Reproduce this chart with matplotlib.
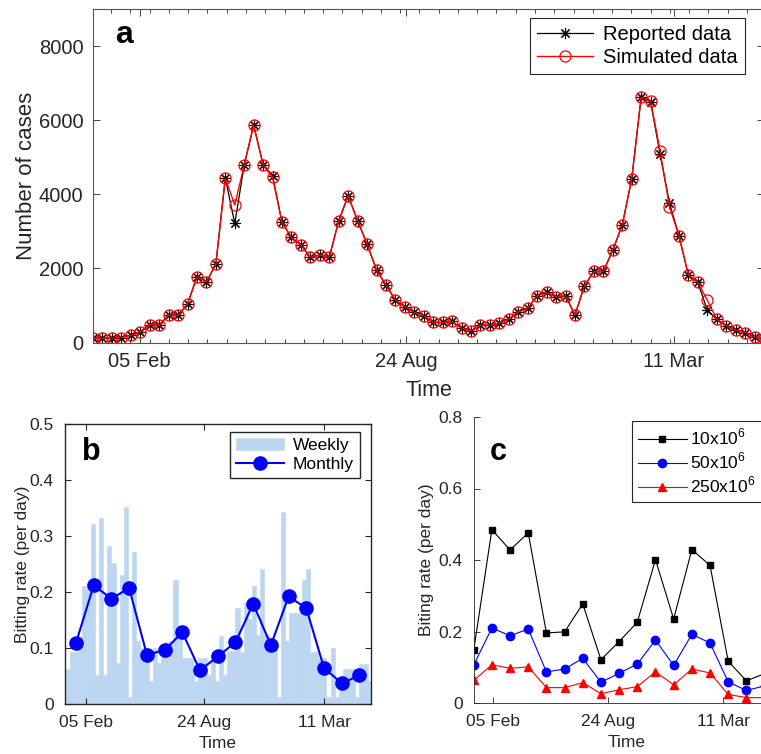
import numpy as np
import matplotlib
matplotlib.use("Agg")
import matplotlib.pyplot as plt
from matplotlib.ticker import FuncFormatter, FixedLocator

plt.rcParams['font.family'] = ['Liberation Sans', 'DejaVu Sans']
plt.rcParams['mathtext.fontset'] = 'custom'
plt.rcParams['mathtext.rm'] = 'Liberation Sans'

# ---- data ----
# panel a: weekly cases
reported = [117, 117, 117, 135, 198, 288, 486, 468, 739, 748, 1036, 1775, 1631, 2117,
            4441, 3216, 4793, 5874, 4793, 4505, 3243, 2838, 2640, 2297, 2360, 2297,
            3288, 3964, 3288, 2658, 1964, 1550, 1144, 964, 811, 721, 541, 541, 568,
            387, 315, 468, 468, 523, 631, 829, 928, 1261, 1351, 1234, 1261, 748,
            1532, 1919, 1919, 2495, 3171, 4414, 6622, 6504, 5090, 3766, 2883, 1820,
            1622, 874, 631, 450, 333, 270, 150, 120]
simulated = [117, 117, 117, 135, 198, 288, 486, 468, 739, 748, 1036, 1775, 1631, 2117,
             4441, 3712, 4793, 5874, 4793, 4460, 3243, 2838, 2631, 2297, 2360, 2297,
             3288, 3964, 3288, 2658, 1964, 1550, 1144, 964, 811, 721, 541, 541, 568,
             387, 315, 468, 468, 523, 631, 829, 928, 1261, 1351, 1234, 1261, 748,
             1532, 1919, 1919, 2495, 3171, 4414, 6622, 6531, 5180, 3667, 2883, 1820,
             1622, 1144, 631, 450, 333, 270, 150, 120]

# panel b: biting rate, weekly bars and monthly means
weekly = [0.062, 0.092, 0.092, 0.12, 0.211, 0.211, 0.322, 0.052, 0.333, 0.052,
          0.282, 0.252, 0.073, 0.231, 0.352, 0.012, 0.272, 0.112, 0.10, 0.10,
          0.041, 0.10, 0.073, 0.105, 0.11, 0.112, 0.222, 0.13, 0.082, 0.082,
          0.082, 0.041, 0.082, 0.082, 0.052, 0.09, 0.041, 0.122, 0.052, 0.094,
          0.094, 0.172, 0.092, 0.18, 0.152, 0.211, 0.124, 0.241, 0.124, 0.11,
          0.11, 0.012, 0.343, 0.112, 0.162, 0.162, 0.162, 0.222, 0.241, 0.092,
          0.092, 0.082, 0.082, 0.012, 0.10, 0.012, 0.041, 0.062, 0.062, 0.062,
          0.012, 0.072, 0.072, 0.041]
monthly = [0.109, 0.212, 0.188, 0.207, 0.088, 0.096, 0.128, 0.060, 0.085, 0.110,
           0.179, 0.105, 0.192, 0.171, 0.064, 0.037, 0.051]

# panel c: biting rate for three population sizes
rate_10 = [0.147, 0.485, 0.428, 0.476, 0.196, 0.199, 0.277, 0.121, 0.172, 0.226,
           0.401, 0.235, 0.429, 0.385, 0.117, 0.062, 0.082]
rate_50 = [0.106, 0.210, 0.188, 0.207, 0.087, 0.095, 0.125, 0.058, 0.083, 0.109,
           0.176, 0.105, 0.192, 0.168, 0.059, 0.035, 0.048]
rate_250 = [0.063, 0.107, 0.097, 0.101, 0.043, 0.043, 0.057, 0.026, 0.037, 0.046,
            0.087, 0.051, 0.095, 0.084, 0.024, 0.015, 0.015]

date_labels = ['05 Feb', '24 Aug', '11 Mar']
ticks_a = [34.6, 232, 430]      # day positions of the date labels
ticks_b = [31.0, 231, 433.6]
ticks_c = [31.4, 222.2, 412.1]

dark = '#262626'
fmt = FuncFormatter(lambda v, p: '%g' % v)

fig = plt.figure(figsize=(7.61, 7.54), dpi=100)

# ---- panel a ----
ax = fig.add_axes([93 / 761, 1 - 342.5 / 754, 671 / 761, 333.2 / 754])
days_a = 7 * np.arange(len(reported))
ax.plot(days_a, reported, color='k', lw=0.9, marker=(8, 2, 0), ms=8, mew=0.8,
        label='Reported data')
ax.plot(days_a, simulated, color='r', lw=1.0, marker='o', ms=8, mfc='none', mew=0.9,
        label='Simulated data')
ax.set_xlim(0, days_a[-1])
ax.set_ylim(0, 9000)
ax.set_yticks([0, 2000, 4000, 6000, 8000])
ax.yaxis.set_major_formatter(fmt)
ax.set_xticks(ticks_a)
ax.set_xticklabels(date_labels)
ax.xaxis.set_minor_locator(FixedLocator(np.arange(-0.85, 500, 14.27)))
ax.tick_params(which='both', direction='in', top=True, right=True, colors=dark,
               labelsize=14.5, width=0.6)
ax.tick_params(which='major', length=5, pad=7)
ax.tick_params(which='minor', length=3)
ax.set_xlabel('Time', fontsize=15.5, color=dark, labelpad=6)
ax.set_ylabel('Number of cases', fontsize=16, color=dark, labelpad=1)
for s in ax.spines.values():
    s.set_color('#555555')
    s.set_linewidth(0.8)
leg = ax.legend(loc='upper right', bbox_to_anchor=(0.9717, 0.974), borderaxespad=0,
                fontsize=14.5, handlelength=2.8, labelspacing=0.2, borderpad=0.35,
                handletextpad=0.5, fancybox=False, framealpha=1, edgecolor=dark)
leg.get_frame().set_linewidth(0.8)
ax.text(0.046, 0.898, 'a', transform=ax.transAxes, fontsize=23, fontweight='bold',
        ha='center', va='baseline')

# ---- panel b ----
bx = fig.add_axes([65 / 761, 1 - 704 / 754, 306 / 761, 280 / 754])
days_w = 7 * np.arange(len(weekly))
days_m = 13.5 + 30 * np.arange(len(monthly))
bars = bx.bar(days_w, weekly, width=7, color='#BCD6F2', edgecolor='#BCD6F2',
              linewidth=0.4, label='Weekly')
line, = bx.plot(days_m, monthly, '-o', color='#0000FF', lw=1.5, ms=9.5, label='Monthly')
bx.set_xlim(-5.1, 513)
bx.set_ylim(0, 0.5)
bx.set_yticks(np.arange(0, 0.51, 0.1))
bx.yaxis.set_major_formatter(fmt)
bx.set_xticks(ticks_b)
bx.set_xticklabels(date_labels)
bx.tick_params(direction='in', top=True, right=True, colors=dark, labelsize=12.5,
               length=4, width=0.8, pad=8)
bx.set_xlabel('Time', fontsize=12.5, color=dark, labelpad=4)
bx.set_ylabel('Bitting rate (per day)', fontsize=12.5, color=dark, labelpad=0)
for s in bx.spines.values():
    s.set_color(dark)
    s.set_linewidth(1.0)
leg = bx.legend([bars, line], ['Weekly', 'Monthly'], loc='upper right',
                bbox_to_anchor=(0.964, 0.971), borderaxespad=0,
                fontsize=12.5, handlelength=2.8, labelspacing=0.2, borderpad=0.35,
                handletextpad=0.5, fancybox=False, framealpha=1, edgecolor=dark)
leg.get_frame().set_linewidth(1.0)
bx.text(0.087, 0.871, 'b', transform=bx.transAxes, fontsize=22, fontweight='bold',
        ha='center', va='baseline')

# ---- panel c ----
cx = fig.add_axes([473.7 / 761, 1 - 703 / 754, 306 / 761, 286 / 754])
days_c = 30 * np.arange(len(rate_10))
cx.plot(days_c, rate_10, '-s', color='k', lw=0.8, ms=5, label='10x10$^{\\mathregular{6}}$')
cx.plot(days_c, rate_50, '-o', color='#0000FF', lw=0.8, ms=6, label='50x10$^{\\mathregular{6}}$')
cx.plot(days_c, rate_250, '-^', color='#FF0000', lw=0.8, ms=6, label='250x10$^{\\mathregular{6}}$')
cx.set_xlim(0, 505)
cx.set_ylim(0, 0.8)
cx.set_yticks(np.arange(0, 0.81, 0.2))
cx.yaxis.set_major_formatter(fmt)
cx.set_xticks(ticks_c)
cx.set_xticklabels(date_labels)
cx.tick_params(direction='in', colors=dark, labelsize=12.5, length=4, width=0.6, pad=8)
cx.set_xlabel('Time', fontsize=12.5, color=dark, labelpad=4)
cx.set_ylabel('Biting rate (per day)', fontsize=12.5, color=dark, labelpad=3)
cx.spines['top'].set_visible(False)
cx.spines['right'].set_visible(False)
for s in ('left', 'bottom'):
    cx.spines[s].set_color(dark)
    cx.spines[s].set_linewidth(0.6)
leg = cx.legend(loc='upper left', bbox_to_anchor=(0.517, 0.986), borderaxespad=0,
                fontsize=12.5, handlelength=2.8, labelspacing=0.2, borderpad=0.35,
                handletextpad=0.2, fancybox=False, framealpha=1, edgecolor=dark)
leg.get_frame().set_linewidth(0.8)
cx.text(0.079, 0.850, 'c', transform=cx.transAxes, fontsize=22, fontweight='bold',
        ha='center', va='baseline')

fig.savefig('out.png', dpi=100)
